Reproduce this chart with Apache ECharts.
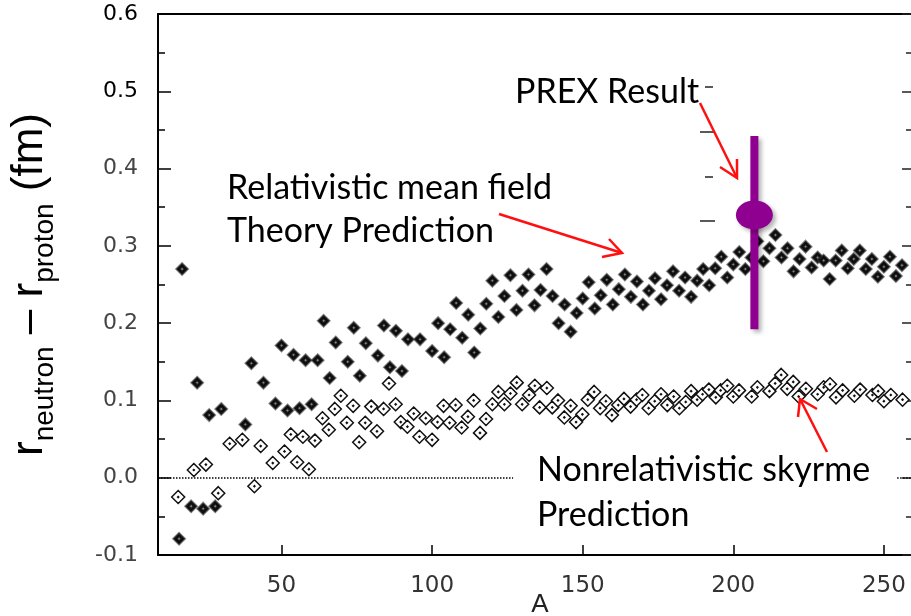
<!DOCTYPE html>
<html>
<head>
<meta charset="utf-8">
<script src="https://cdn.jsdelivr.net/npm/echarts@6/dist/echarts.min.js"></script>
<style>
html,body{margin:0;padding:0;background:#fff;}
#c{width:911px;height:616px;}
</style>
</head>
<body>
<div id="c"></div>
<script>
// Relativistic mean field (filled diamonds)
var rmfA = [16,17,20,22,24,26,28,30,38,40,44,48,50,52,54,56,58,60,62,64,66,68,72,74,76,78,82,84,86,88,90,92,96,100,102,104,106,108,110,112,114,116,118,120,122,124,126,128,130,132,134,136,138,140,142,144,146,148,150,152,154,156,158,160,162,164,166,168,170,172,174,176,178,180,182,184,186,188,190,192,194,196,198,200,202,204,206,208,210,212,214,216,218,220,222,224,226,228,230,232,234,236,238,240,242,244,246,248,250,252,254,256];
var rmfDr = [-0.079,0.270,-0.037,0.123,-0.040,0.081,-0.037,0.089,0.069,0.148,0.123,0.096,0.171,0.087,0.159,0.090,0.152,0.095,0.152,0.203,0.129,0.175,0.150,0.194,0.132,0.174,0.158,0.197,0.143,0.190,0.138,0.179,0.179,0.164,0.200,0.156,0.192,0.226,0.181,0.211,0.162,0.193,0.225,0.255,0.208,0.235,0.262,0.217,0.242,0.263,0.223,0.243,0.270,0.235,0.200,0.224,0.189,0.213,0.232,0.253,0.219,0.236,0.256,0.224,0.244,0.263,0.234,0.254,0.224,0.242,0.258,0.231,0.249,0.267,0.242,0.259,0.234,0.255,0.270,0.249,0.271,0.286,0.259,0.276,0.292,0.270,0.285,0.306,0.280,0.297,0.314,0.285,0.297,0.267,0.283,0.299,0.272,0.285,0.281,0.257,0.281,0.294,0.271,0.283,0.294,0.270,0.283,0.260,0.273,0.286,0.261,0.275];

// Nonrelativistic Skyrme (open diamonds)
var skyA = [15.7,20.9,24.9,29.0,32.8,37.0,41.0,43.1,47.1,51.0,53.1,55.2,57.1,59.1,61.1,63.6,65.7,67.7,69.7,71.7,73.8,75.8,77.8,79.8,81.7,83.9,85.7,87.9,89.6,91.8,93.9,95.8,97.9,100.0,101.8,103.8,105.8,107.8,109.8,111.9,113.8,115.9,117.9,120.0,122.0,124.0,126.0,128.1,129.9,132.2,134.1,135.7,138.1,139.9,141.8,143.9,146.0,147.8,149.9,151.7,153.8,155.8,157.7,159.7,161.8,163.7,165.9,167.9,169.8,171.9,173.9,176.0,178.1,180.2,182.1,184.2,186.0,188.0,189.8,191.9,194.2,195.8,198.0,200.0,201.9,206.1,208.0,212.0,213.9,215.9,217.9,219.9,221.7,224.1,228.0,230.0,232.1,234.1,236.3,240.2,242.1,246.2,248.1,250.0,252.3,256.2];
var skyDr = [-0.025,0.010,0.017,-0.020,0.044,0.049,-0.011,0.041,0.019,0.034,0.056,0.020,0.053,0.011,0.048,0.077,0.062,0.089,0.106,0.071,0.093,0.046,0.071,0.092,0.060,0.089,0.122,0.095,0.072,0.066,0.083,0.053,0.077,0.049,0.072,0.093,0.071,0.094,0.065,0.079,0.100,0.058,0.076,0.095,0.111,0.095,0.109,0.123,0.095,0.107,0.119,0.091,0.116,0.091,0.100,0.078,0.093,0.072,0.082,0.101,0.111,0.090,0.099,0.081,0.094,0.102,0.092,0.101,0.107,0.090,0.099,0.108,0.094,0.105,0.090,0.098,0.112,0.101,0.108,0.114,0.104,0.113,0.119,0.105,0.113,0.105,0.117,0.112,0.122,0.133,0.115,0.124,0.105,0.115,0.108,0.117,0.121,0.104,0.113,0.106,0.114,0.107,0.112,0.099,0.107,0.101];

// PREX result: A, central value, lower and upper ends of the bar
var prexA = 207;
var prexDr = 0.340;
var prexBar = [0.192, 0.442];

// axes
var xTickValues = [50, 100, 150, 200, 250];
var zeroLineSegments = [[9, 126.9], [254.4, 259]];

function pairs(xs, ys) { return xs.map(function (x, i) { return [x, ys[i]]; }); }

var filledPath = 'path://M0,-6L6,0L0,6L-6,0Z M0,-1.2L-1.2,0L0,1.2L1.2,0Z';
var openPath = 'path://M0,-6L6,0L0,6L-6,0Z M0,-0.5L-0.5,0L0,0.5L0.5,0Z';

var chart = echarts.init(document.getElementById('c'), null, {renderer: 'canvas'});

var red = '#ff1010';
function arrow(pts, head) {
  return [
    {type: 'polyline', shape: {points: pts}, style: {stroke: red, lineWidth: 2.5, fill: null}, z: 100},
    {type: 'polyline', shape: {points: head}, style: {stroke: red, lineWidth: 2.5, fill: null, lineJoin: 'miter'}, z: 100}
  ];
}
function txt(s, x, y) {
  return {type: 'text', x: x, y: y, z: 100,
    style: {text: s, fill: '#000', font: '34px Lato', textAlign: 'left', textVerticalAlign: 'middle'}};
}
function dash(x1, x2, y) {
  return {type: 'line', shape: {x1: x1, y1: y, x2: x2, y2: y}, style: {stroke: '#222', lineWidth: 1.5}, z: 50};
}

var option = {
  backgroundColor: '#fff',
  animation: false,
  grid: {left: 158, right: 0, top: 14, bottom: 61, containLabel: false, outerBoundsMode: 'none'},
  xAxis: [{
    type: 'value', min: 9, max: 259, position: 'bottom',
    axisLine: {show: true, onZero: false, lineStyle: {color: '#000', width: 2}},
    axisTick: {show: true, inside: true, length: 10, lineStyle: {color: '#000', width: 1.5}, customValues: xTickValues},
    axisLabel: {show: true, customValues: xTickValues, margin: 20, fontFamily: 'DejaVu Sans', fontSize: 23, color: '#333'},
    splitLine: {show: false},
    name: 'A', nameLocation: 'middle', nameGap: 37, nameMoveOverlap: false,
    nameTextStyle: {fontFamily: 'Liberation Sans', fontSize: 26, color: '#222', padding: [0, 0, 0, 11]}
  }, {
    type: 'value', min: 9, max: 259, position: 'top',
    axisLine: {show: true, onZero: false, lineStyle: {color: '#000', width: 2}},
    axisTick: {show: false}, axisLabel: {show: false}, splitLine: {show: false}
  }],
  yAxis: [{
    type: 'value', min: -0.1, max: 0.6, interval: 0.1, position: 'left',
    axisLine: {show: true, onZero: false, lineStyle: {color: '#000', width: 2}},
    axisTick: {show: true, inside: true, length: 13, lineStyle: {color: '#000', width: 1.5}},
    minorTick: {show: true, splitNumber: 2, length: 7, lineStyle: {color: '#000', width: 1.5}},
    axisLabel: {
      margin: 20, fontFamily: 'DejaVu Sans', fontSize: 22,
      formatter: function (v) { return v.toFixed(1); },
      color: function (v) { return v > 0.45 ? '#000' : '#444'; }
    },
    splitLine: {show: false}, minorSplitLine: {show: false},
    name: '{m|r}{s|neutron}{m| – r}{s|proton}{m| (fm)}',
    nameLocation: 'middle', nameRotate: 90, nameGap: 99, nameMoveOverlap: false,
    nameTextStyle: {
      color: '#000',
      rich: {
        m: {fontSize: 44, fontFamily: 'Liberation Sans', color: '#000', verticalAlign: 'bottom', padding: [0, 0, 7, 0]},
        s: {fontSize: 28, fontFamily: 'Liberation Sans', color: '#000', verticalAlign: 'bottom'}
      }
    }
  }, {
    type: 'value', min: -0.1, max: 0.6, interval: 0.1, position: 'right',
    axisLine: {show: false, onZero: false},
    axisTick: {show: true, inside: true, length: 9, lineStyle: {color: '#222', width: 1.5}},
    minorTick: {show: true, splitNumber: 2, length: 5, lineStyle: {color: '#222', width: 1.5}},
    axisLabel: {show: false}, splitLine: {show: false}, minorSplitLine: {show: false}
  }],
  series: [{
    name: 'Relativistic mean field', type: 'scatter', data: pairs(rmfA, rmfDr),
    symbol: filledPath, symbolSize: 12,
    itemStyle: {color: '#0c0c0c', borderColor: 'rgba(50,50,50,0.6)', borderWidth: 1.8, opacity: 1},
    z: 3, silent: true,
    markLine: {
      silent: true, symbol: ['none', 'none'], label: {show: false},
      lineStyle: {type: 'dotted', color: '#000', width: 1.5},
      data: zeroLineSegments.map(function (s) { return [{coord: [s[0], 0]}, {coord: [s[1], 0]}]; })
    }
  }, {
    name: 'Nonrelativistic skyrme', type: 'scatter', data: pairs(skyA, skyDr),
    symbol: openPath, symbolSize: 13,
    itemStyle: {color: '#fff', borderColor: '#111', borderWidth: 1.5, opacity: 1},
    z: 4, silent: true
  }, {
    name: 'PREX bar', type: 'line', data: [[prexA, prexBar[0]], [prexA, prexBar[1]]],
    symbol: 'none', z: 6, silent: true,
    lineStyle: {color: '#900090', width: 8, cap: 'butt', opacity: 1, shadowColor: 'rgba(0,0,0,0.3)', shadowBlur: 4, shadowOffsetX: 3, shadowOffsetY: 3}
  }, {
    name: 'PREX', type: 'scatter', data: [[prexA, prexDr]],
    symbol: 'circle', symbolSize: [37, 29], z: 7, silent: true,
    itemStyle: {color: '#900090', opacity: 1, shadowColor: 'rgba(0,0,0,0.3)', shadowBlur: 4, shadowOffsetX: 3, shadowOffsetY: 3}
  }],
  graphic: [].concat(
    [txt('Relativistic mean field', 227, 188), txt('Theory Prediction', 227, 231),
     txt('PREX Result', 515, 92), txt('Nonrelativistic skyrme', 537, 470), txt('Prediction', 537, 515)],
    arrow([[499, 214], [622, 253]], [[602, 257], [622, 253], [609, 239]]),
    arrow([[700, 103], [737, 178]], [[720, 167], [737, 178], [737, 159]]),
    arrow([[827, 452], [800, 399]], [[798, 417], [800, 399], [817, 409]]),
    [dash(705, 713, 87), dash(700, 715, 132), dash(705, 713, 177), dash(700, 715, 221)]
  )
};
chart.setOption(option);
</script>
</body>
</html>
